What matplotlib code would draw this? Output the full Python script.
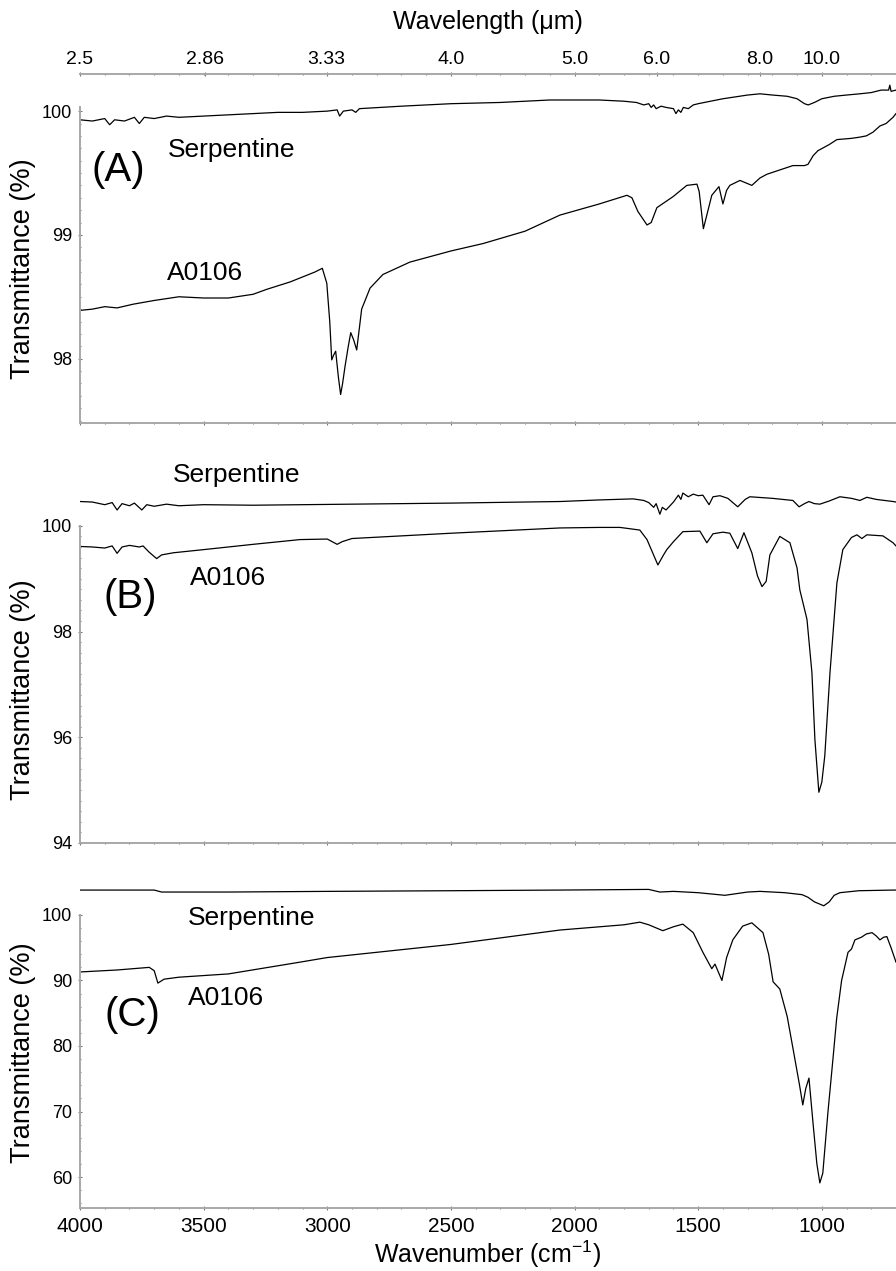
import matplotlib
matplotlib.use("Agg")
import matplotlib.pyplot as plt
import numpy as np
from matplotlib.ticker import MultipleLocator, FixedLocator, NullFormatter

plt.rcParams['font.family'] = ['Liberation Sans', 'DejaVu Sans']
plt.rcParams['mathtext.default'] = 'regular'

# ---- data (wavenumber cm-1, transmittance %) ----
# panel A
wn_sA = [4000, 3950, 3900, 3880, 3860, 3820, 3780, 3760, 3740, 3700, 3650, 3600, 3500, 3400,
         3300, 3200, 3100, 3000, 2960, 2950, 2935, 2900, 2885, 2870, 2700, 2500, 2300, 2100,
         2000, 1900, 1800, 1750, 1720, 1700, 1690, 1680, 1670, 1650, 1630, 1600, 1590, 1580,
         1570, 1560, 1540, 1520, 1500, 1450, 1400, 1300, 1250, 1200, 1140, 1100, 1070, 1055,
         1030, 1000, 950, 900, 846, 800, 760, 730, 725, 720, 700]
t_sA = [99.93, 99.92, 99.94, 99.89, 99.93, 99.92, 99.95, 99.90, 99.95, 99.94, 99.96, 99.95,
        99.96, 99.97, 99.98, 99.99, 99.99, 100.00, 100.01, 99.96, 100.00, 100.01, 99.99, 100.02,
        100.04, 100.06, 100.07, 100.09, 100.09, 100.09, 100.08, 100.07, 100.05, 100.06, 100.03,
        100.05, 100.02, 100.04, 100.03, 100.02, 99.98, 100.01, 99.99, 100.03, 100.02, 100.05,
        100.06, 100.08, 100.10, 100.13, 100.14, 100.13, 100.12, 100.10, 100.06, 100.05, 100.07,
        100.10, 100.12, 100.13, 100.14, 100.15, 100.17, 100.17, 100.21, 100.16, 100.17]

wn_aA = [4000, 3950, 3900, 3850, 3785, 3700, 3600, 3500, 3400, 3300, 3245, 3150, 3100, 3050,
         3020, 3002, 2990, 2982, 2974, 2966, 2955, 2946, 2938, 2928, 2915, 2905, 2893, 2881,
         2870, 2861, 2827, 2775, 2666, 2500, 2370, 2200, 2059, 1900, 1788, 1768, 1744, 1707,
         1690, 1667, 1601, 1546, 1505, 1496, 1479, 1460, 1445, 1416, 1400, 1385, 1372, 1331,
         1283, 1250, 1222, 1117, 1070, 1056, 1035, 1016, 970, 939, 880, 846, 820, 793, 765,
         740, 712, 700]
t_aA = [98.39, 98.40, 98.42, 98.41, 98.44, 98.47, 98.50, 98.49, 98.49, 98.52, 98.56, 98.62,
        98.66, 98.70, 98.73, 98.61, 98.30, 97.99, 98.03, 98.06, 97.85, 97.71, 97.80, 97.94,
        98.10, 98.21, 98.15, 98.07, 98.25, 98.40, 98.57, 98.68, 98.78, 98.87, 98.93, 99.03,
        99.16, 99.25, 99.32, 99.30, 99.19, 99.08, 99.10, 99.22, 99.31, 99.40, 99.41, 99.35,
        99.05, 99.20, 99.32, 99.39, 99.25, 99.36, 99.40, 99.44, 99.40, 99.46, 99.49, 99.56,
        99.56, 99.57, 99.64, 99.68, 99.73, 99.77, 99.78, 99.79, 99.80, 99.83, 99.88, 99.90,
        99.95, 99.98]

# panel B
wn_sB = [4000, 3950, 3900, 3870, 3850, 3830, 3800, 3780, 3750, 3730, 3700, 3650, 3600, 3500,
         3300, 3100, 2900, 2500, 2059, 1900, 1763, 1720, 1700, 1680, 1670, 1655, 1645, 1630,
         1600, 1580, 1570, 1562, 1540, 1520, 1500, 1481, 1456, 1440, 1412, 1380, 1340, 1310,
         1291, 1200, 1117, 1092, 1070, 1052, 1030, 1008, 970, 927, 880, 846, 818, 780, 712, 700]
t_sB = [100.46, 100.45, 100.40, 100.44, 100.30, 100.42, 100.38, 100.43, 100.30, 100.40, 100.37,
        100.41, 100.38, 100.40, 100.39, 100.40, 100.41, 100.43, 100.46, 100.49, 100.51, 100.48,
        100.44, 100.35, 100.42, 100.22, 100.35, 100.30, 100.45, 100.58, 100.50, 100.62, 100.55,
        100.60, 100.57, 100.58, 100.40, 100.55, 100.57, 100.52, 100.36, 100.50, 100.55, 100.52,
        100.48, 100.36, 100.42, 100.46, 100.42, 100.41, 100.47, 100.55, 100.52, 100.48, 100.54,
        100.50, 100.46, 100.45]

wn_aB = [4000, 3950, 3900, 3870, 3850, 3830, 3800, 3760, 3745, 3720, 3690, 3670, 3623, 3500,
         3300, 3110, 3000, 2960, 2940, 2900, 2500, 2059, 1900, 1816, 1736, 1707, 1663, 1640,
         1627, 1600, 1562, 1493, 1465, 1440, 1400, 1372, 1340, 1315, 1283, 1260, 1242, 1225,
         1210, 1170, 1129, 1100, 1089, 1060, 1040, 1028, 1012, 1000, 988, 967, 939, 915, 880,
         858, 838, 818, 753, 712, 700]
t_aB = [99.61, 99.60, 99.58, 99.62, 99.48, 99.60, 99.63, 99.60, 99.62, 99.50, 99.38, 99.45,
        99.49, 99.55, 99.65, 99.74, 99.75, 99.65, 99.70, 99.76, 99.86, 99.96, 99.97, 99.97,
        99.92, 99.74, 99.26, 99.45, 99.55, 99.70, 99.89, 99.90, 99.68, 99.85, 99.88, 99.86,
        99.57, 99.87, 99.49, 99.05, 98.85, 98.95, 99.45, 99.80, 99.68, 99.20, 98.79, 98.23,
        97.22, 95.96, 94.96, 95.15, 95.65, 97.22, 98.92, 99.55, 99.78, 99.83, 99.76, 99.83,
        99.81, 99.68, 99.62]

# panel C
wn_sC = [4000, 3700, 3670, 3400, 3000, 2500, 2059, 1700, 1655, 1600, 1500, 1392, 1300, 1250,
         1150, 1080, 1056, 1030, 992, 970, 950, 927, 850, 712, 700]
t_sC = [103.8, 103.8, 103.5, 103.5, 103.6, 103.7, 103.8, 103.9, 103.5, 103.6, 103.4, 103.0,
        103.5, 103.6, 103.4, 103.1, 102.7, 102.0, 101.4, 102.0, 103.0, 103.4, 103.7, 103.8, 103.8]

wn_aC = [4000, 3850, 3720, 3700, 3685, 3660, 3600, 3400, 3110, 3000, 2500, 2059, 1800, 1736,
         1700, 1643, 1600, 1562, 1520, 1481, 1445, 1432, 1404, 1385, 1360, 1320, 1283, 1238,
         1215, 1197, 1170, 1140, 1117, 1090, 1077, 1065, 1052, 1035, 1020, 1008, 996, 975, 955,
         940, 920, 894, 880, 866, 840, 820, 797, 780, 765, 750, 737, 720, 700]
t_aC = [91.3, 91.6, 92.0, 91.5, 89.6, 90.2, 90.5, 91.0, 92.8, 93.5, 95.5, 97.7, 98.5, 98.9,
        98.5, 97.6, 98.2, 98.6, 97.3, 94.3, 91.8, 92.5, 90.0, 93.5, 96.2, 98.3, 98.8, 97.3,
        94.0, 89.8, 88.7, 84.5, 79.7, 74.0, 71.0, 73.5, 75.1, 68.0, 62.0, 59.1, 60.6, 70.0,
        78.0, 84.2, 90.0, 94.3, 94.8, 96.2, 96.6, 97.1, 97.3, 96.8, 96.2, 96.6, 96.7, 95.0, 92.8]

wl_ticks = [2.5, 2.86, 3.33, 4.0, 5.0, 6.0, 8.0, 10.0]
wl_labels = ['2.5', '2.86', '3.33', '4.0', '5.0', '6.0', '8.0', '10.0']

W, H = 896, 1271
fig = plt.figure(figsize=(W / 100, H / 100), dpi=100)


def px_axes(top, bottom, left=80, right=896):
    return fig.add_axes([left / W, 1 - bottom / H, (right - left) / W, (bottom - top) / H])


def fx(x):
    return x / W


def fy(y):
    return 1 - y / H


spine_col = '#a8a8a8'


def style(ax, ylim, major, minor, left_top, top_px, bot_px, label_px):
    ax.set_xlim(4000, 700)
    ax.set_ylim(*ylim)
    for s in ['top', 'right']:
        ax.spines[s].set_visible(False)
    for s in ['left', 'bottom']:
        ax.spines[s].set_color(spine_col)
        ax.spines[s].set_linewidth(1.4)
    ax.spines['left'].set_bounds(ylim[0], left_top)
    ax.xaxis.set_major_locator(MultipleLocator(500))
    ax.xaxis.set_minor_locator(MultipleLocator(100))
    # y ticks only along the drawn part of the left spine
    first = np.ceil(ylim[0] / minor) * minor
    ax.yaxis.set_minor_locator(FixedLocator(np.arange(first, left_top + 1e-6, minor)))
    first = np.ceil(ylim[0] / major) * major
    ax.yaxis.set_major_locator(FixedLocator(np.arange(first, left_top + 1e-6, major)))
    ax.tick_params(which='both', direction='inout', color='#777777', width=0.8)
    ax.tick_params(which='major', length=3)
    ax.tick_params(which='minor', length=2)
    ax.tick_params(axis='y', labelsize=13, pad=4)
    ax.set_ylabel('Transmittance (%)', fontsize=19.5)
    ax.yaxis.set_label_coords(-(80 - 36) / 816, (bot_px - label_px) / (bot_px - top_px))


# ---- panel A ----
axA = px_axes(74, 423)
axA.plot(wn_sA, t_sA, color='black', lw=0.9)
axA.plot(wn_aA, t_aA, color='black', lw=0.9)
style(axA, (97.48, 100.30), 1, 0.1, 100.03, 74, 423, 269)
axA.tick_params(axis='x', labelbottom=False)

top = axA.twiny()
top.set_xlim(4000, 700)
top.xaxis.set_major_locator(FixedLocator([1e4 / w for w in wl_ticks]))
top.set_xticklabels(wl_labels)
top.xaxis.set_minor_locator(MultipleLocator(100))
top.xaxis.set_minor_formatter(NullFormatter())
for s in ['left', 'right', 'bottom']:
    top.spines[s].set_visible(False)
top.spines['top'].set_color(spine_col)
top.spines['top'].set_linewidth(1.4)
top.tick_params(which='both', direction='inout', color='#777777', width=0.8, labelsize=14, pad=3)
top.tick_params(which='major', length=3)
top.tick_params(which='minor', length=2)
top.set_xlabel('Wavelength (\u03bcm)', fontsize=18, labelpad=16)

# ---- panel B ----
axB = px_axes(455, 843)
axB.plot(wn_sB, t_sB, color='black', lw=0.9)
axB.plot(wn_aB, t_aB, color='black', lw=0.9)
style(axB, (94.0, 101.34), 2, 0.2, 100.0, 455, 843, 690)
axB.tick_params(axis='x', labelbottom=False)

# ---- panel C ----
axC = px_axes(875, 1208)
axC.plot(wn_sC, t_sC, color='black', lw=0.9)
axC.plot(wn_aC, t_aC, color='black', lw=0.9)
style(axC, (55.27, 106.1), 10, 2, 100.0, 875, 1208, 1053)
axC.tick_params(axis='x', labelsize=15, pad=5)
axC.set_xlabel('Wavenumber (cm$^{-1}$)', fontsize=18, labelpad=2)

# ---- annotations ----
lab = dict(fontsize=19, va='center', ha='left')
big = dict(fontsize=29, va='center', ha='center')
fig.text(fx(118), fy(170), '(A)', **big)
fig.text(fx(168), fy(150), 'Serpentine', **lab)
fig.text(fx(167), fy(273), 'A0106', **lab)
fig.text(fx(130), fy(597), '(B)', **big)
fig.text(fx(173), fy(475), 'Serpentine', **lab)
fig.text(fx(190), fy(578), 'A0106', **lab)
fig.text(fx(132), fy(1015), '(C)', **big)
fig.text(fx(188), fy(918), 'Serpentine', **lab)
fig.text(fx(188), fy(998), 'A0106', **lab)

fig.savefig('out.png', dpi=100)
